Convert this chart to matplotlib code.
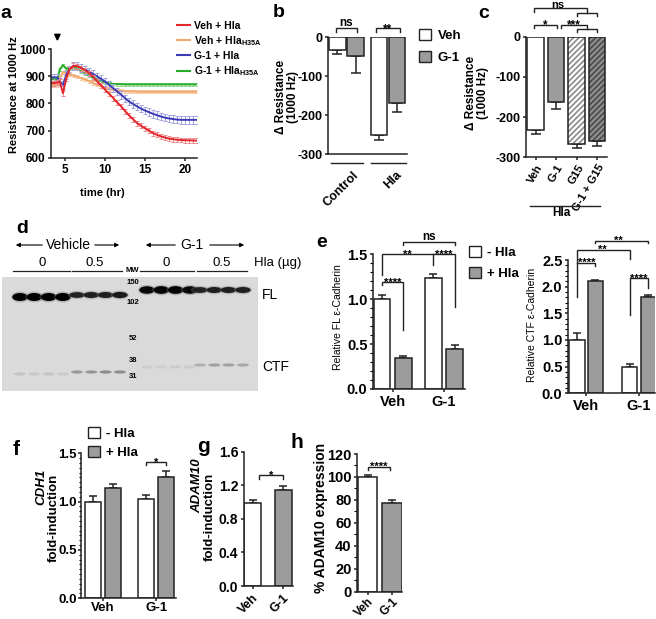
import numpy as np
import matplotlib
matplotlib.use('Agg')
import matplotlib.pyplot as plt
from matplotlib.lines import Line2D
from matplotlib.patches import Patch, Ellipse
from matplotlib.ticker import MultipleLocator, FormatStrFormatter

plt.rcParams['font.family'] = ['Liberation Sans', 'DejaVu Sans']
plt.rcParams['font.weight'] = 'bold'
plt.rcParams['mathtext.fontset'] = 'custom'
plt.rcParams['mathtext.rm'] = 'Liberation Sans:bold'
plt.rcParams['mathtext.bf'] = 'Liberation Sans:bold'
plt.rcParams['hatch.linewidth'] = 1.2
plt.rcParams['axes.unicode_minus'] = False

# ---------------- data ----------------
# a: resistance time course (ECIS)
time_hr = [3.2, 3.6, 4.0, 4.3, 4.7, 5.1, 5.5, 6.0, 6.5, 7.0, 7.5, 8.0, 8.5, 9.0, 9.5,
           10.0, 10.5, 11.0, 11.5, 12.0, 12.5, 13.0, 13.5, 14.0, 14.5, 15.0, 15.5,
           16.0, 16.5, 17.0, 17.5, 18.0, 18.5, 19.0, 19.5, 20.0, 20.5, 21.0, 21.5]
veh_hla = [875, 875, 877, 880, 838, 890, 925, 938, 937, 930, 921, 911, 897, 881, 866,
           850, 835, 820, 804, 789, 772, 756, 742, 728, 718, 709, 700,
           691, 685, 679, 675, 671, 669, 667, 666, 665, 665, 664, 664]
veh_h35a = [868, 868, 868, 895, 915, 912, 906, 903, 898, 893, 888, 882, 875, 869, 863,
            858, 853, 850, 847, 846, 845, 844, 844, 843, 843, 843, 843,
            843, 843, 843, 843, 843, 843, 843, 843, 843, 843, 843, 843]
g1_hla = [896, 896, 896, 880, 868, 905, 925, 938, 938, 930, 924, 917, 908, 899, 890,
          880, 868, 856, 844, 832, 819, 807, 798, 789, 781, 774, 768,
          762, 757, 752, 748, 745, 743, 741, 740, 740, 740, 740, 740]
g1_h35a = [889, 889, 890, 925, 941, 928, 928, 932, 928, 918, 910, 902, 895, 888, 882,
           877, 874, 872, 871, 871, 870, 870, 870, 870, 870, 870, 870,
           870, 870, 870, 870, 870, 870, 870, 870, 870, 870, 870, 870]
a_err = [9, 6, 14, 5]
a_labels = ['Veh + Hla', r'Veh + Hla$_{\mathrm{H35A}}$', 'G-1 + Hla', r'G-1 + Hla$_{\mathrm{H35A}}$']

# b: delta resistance
b_groups = ['Control', 'Hla']
b_veh = [-33, -251]
b_veh_err = [11, 13]
b_g1 = [-47, -168]
b_g1_err = [46, 23]

# c: delta resistance with G15
c_labels = ['Veh', 'G-1', 'G15', 'G-1 + G15']
c_vals = [-232, -163, -267, -260]
c_err = [9, 16, 10, 11]

# d: western blot band signal per lane (Vehicle 0, Vehicle 0.5, G-1 0, G-1 0.5)
fl_signal = [1.0, 1.0, 1.0, 1.0, 0.55, 0.6, 0.6, 0.65, 0.9, 0.95, 0.95, 0.9, 0.55, 0.6, 0.6, 0.6]
ctf_signal = [0.15, 0.12, 0.15, 0.1, 0.45, 0.5, 0.55, 0.55, 0.08, 0.08, 0.1, 0.1, 0.3, 0.4, 0.4, 0.35]
mw_labels = ['150', '102', '52', '38', '31']

# e: relative E-cadherin
e_groups = ['Veh', 'G-1']
fl_minus = [1.0, 1.24]
fl_minus_err = [0.05, 0.045]
fl_plus = [0.35, 0.44]
fl_plus_err = [0.02, 0.055]
ctf_minus = [1.0, 0.5]
ctf_minus_err = [0.13, 0.05]
ctf_plus = [2.1, 1.8]
ctf_plus_err = [0.03, 0.04]

# f: CDH1 fold induction
cdh1_minus = [1.0, 1.03]
cdh1_minus_err = [0.06, 0.04]
cdh1_plus = [1.14, 1.25]
cdh1_plus_err = [0.04, 0.07]

# g: ADAM10 fold induction
gh_labels = ['Veh', 'G-1']
adam10_fold = [0.99, 1.14]
adam10_fold_err = [0.04, 0.05]

# h: % ADAM10 expression
adam10_pct = [100, 77]
adam10_pct_err = [2, 3]

# ---------------- figure ----------------
W, H = 656, 619
fig = plt.figure(figsize=(W / 100, H / 100), dpi=100)
EDGE = '#222222'
GRAY = '#9c9c9c'


def px_axes(l, t, r, b):
    return fig.add_axes([l / W, 1 - b / H, (r - l) / W, (b - t) / H])


def style(ax, fs, pad=1.5):
    for s in ['top', 'right']:
        ax.spines[s].set_visible(False)
    for s in ['left', 'bottom']:
        ax.spines[s].set_linewidth(1.1)
        ax.spines[s].set_color(EDGE)
    ax.tick_params(labelsize=fs, width=1.1, length=2.5, pad=pad, direction='out', color=EDGE)


def bracket(ax, xs, ys, label=None, xm=None, ym=None, fs=8, dy=-2.5):
    ax.plot(xs, ys, color=EDGE, lw=1.0, clip_on=False, solid_joinstyle='miter')
    if label:
        ax.annotate(label, xy=(xm, ym), xytext=(0, dy), textcoords='offset points',
                    ha='center', va='baseline', fontsize=fs, fontweight='bold',
                    annotation_clip=False)


def bars(ax, x, vals, errs, width, face, down=False, capsize=3):
    ax.bar(x, vals, width, color=face, edgecolor=EDGE, linewidth=1.1, zorder=2)
    z = np.zeros(len(vals))
    yerr = [errs, z] if down else [z, errs]
    ax.errorbar(x, vals, yerr=yerr, fmt='none', ecolor=EDGE, elinewidth=1.1,
                capsize=capsize, capthick=1.1, zorder=1)


ov = fig.add_axes([0, 0, 1, 1], zorder=10)
ov.set_xlim(0, W)
ov.set_ylim(H, 0)
ov.axis('off')

# ---- panel a ----
ax_a = px_axes(51, 49, 197, 158)
a_series = [veh_hla, veh_h35a, g1_hla, g1_h35a]
a_colors = ['#e3262b', '#f2a76c', '#3b3bb5', '#25ad25']
a_ecolors = ['#f08a8a', '#f6c9a3', '#a2a2e0', '#8fd68f']
for i in [1, 3, 2, 0]:
    ax_a.errorbar(time_hr, a_series[i], yerr=a_err[i], fmt='none', ecolor=a_ecolors[i],
                  elinewidth=0.7, capsize=1.3, capthick=0.7)
    ax_a.plot(time_hr, a_series[i], color=a_colors[i], lw=1.4)
ax_a.set_xlim(3.2, 21.5)
ax_a.set_ylim(600, 1000)
ax_a.set_xticks([5, 10, 15, 20])
ax_a.set_yticks(range(600, 1001, 100))
style(ax_a, 8.5)
ax_a.annotate('', xy=(4.0, 1018), xytext=(4.0, 1062),
              arrowprops=dict(arrowstyle='-|>', color='black', lw=1.2, mutation_scale=9),
              annotation_clip=False)
fig.legend([Line2D([], [], color=c, lw=1.5) for c in a_colors], a_labels,
           loc='upper left', bbox_to_anchor=(177 / W, 1 - 21 / H), frameon=False,
           prop={'weight': 'bold', 'size': 7.5}, handlelength=1.2, handletextpad=0.4,
           labelspacing=0.3, borderpad=0, borderaxespad=0)
ov.text(14, 95, 'Resistance at 1000 Hz', rotation=90, ha='center', va='center', fontsize=8)
ov.text(102, 193, 'time (hr)', ha='center', va='center', fontsize=8)

# ---- panel b ----
ax_b = px_axes(328, 37.3, 407, 154)
xb = np.arange(len(b_groups))
bars(ax_b, xb - 0.22, b_veh, b_veh_err, 0.4, 'white', down=True, capsize=3.5)
bars(ax_b, xb + 0.22, b_g1, b_g1_err, 0.4, GRAY, down=True, capsize=3.5)
ax_b.set_xlim(-0.446, 1.458)
ax_b.set_ylim(-300, 0)
ax_b.set_xticks([])
ax_b.set_yticks([0, -100, -200, -300])
style(ax_b, 9)
bracket(ax_b, [-0.25, -0.25, 0.25, 0.25], [14.5, 23, 23, 14.5], 'ns', 0, 23, fs=8.5, dy=1.5)
bracket(ax_b, [0.72, 0.72, 1.28, 1.28], [14.5, 23, 23, 14.5], '**', 1, 23, fs=8.5)
fig.legend([Patch(facecolor='white', edgecolor=EDGE, lw=1.0), Patch(facecolor=GRAY, edgecolor=EDGE, lw=1.0)],
           ['Veh', 'G-1'], loc='upper left', bbox_to_anchor=(419 / W, 1 - 29 / H), frameon=False,
           prop={'weight': 'bold', 'size': 9.5}, handlelength=0.9, handleheight=0.9, handletextpad=0.5,
           labelspacing=0.65, borderpad=0, borderaxespad=0)
ov.text(287, 97, 'Δ Resistance\n(1000 Hz)', rotation=90, ha='center', va='center',
        fontsize=8.5, multialignment='center', linespacing=1.1)
for (x1, x2), lab in zip([(330.7, 363), (371, 405.7)], b_groups):
    ov.plot([x1, x2], [163.3, 163.3], color=EDGE, lw=1.0)
    ov.text(x2 - 10, 169, lab, rotation=45, ha='right', va='top', rotation_mode='anchor', fontsize=9)

# ---- panel c ----
ax_c = px_axes(526, 36.7, 607, 157.3)
xc = np.arange(len(c_labels))
c_faces = ['white', GRAY, 'white', '#8e8e8e']
c_hatch = [None, None, '//////', '//////']
c_hcol = [None, None, '#8a8a8a', '#4a4a4a']
for i in range(len(c_labels)):
    if c_hatch[i]:
        ax_c.bar(xc[i], c_vals[i], 0.8, color=c_faces[i], edgecolor=c_hcol[i], hatch=c_hatch[i],
                 linewidth=0, zorder=2)
        ax_c.bar(xc[i], c_vals[i], 0.8, facecolor='none', edgecolor=EDGE, linewidth=1.1, zorder=3)
    else:
        ax_c.bar(xc[i], c_vals[i], 0.8, color=c_faces[i], edgecolor=EDGE, linewidth=1.1, zorder=2)
ax_c.errorbar(xc, c_vals, yerr=[c_err, np.zeros(4)], fmt='none', ecolor=EDGE, elinewidth=1.1,
              capsize=3.5, capthick=1.1, zorder=1)
ax_c.set_xlim(-0.47, 3.48)
ax_c.set_ylim(-300, 0)
ax_c.set_yticks([0, -100, -200, -300])
ax_c.set_xticks(xc)
ax_c.set_xticklabels(c_labels, rotation=60, ha='right', rotation_mode='anchor')
style(ax_c, 9)
ax_c.tick_params(axis='x', labelsize=8)
bracket(ax_c, [-0.1, -0.1, 1.05, 1.05], [21, 29, 29, 21], '*', 0.47, 29, fs=8.5)
bracket(ax_c, [2, 2, 3, 3], [12, 18.5, 18.5, 12])
bracket(ax_c, [1.22, 1.22, 2.5, 2.5], [21, 29, 29, 18.5], '***', 1.85, 29, fs=8.5)
bracket(ax_c, [2, 2, 3, 3], [52, 58, 58, 52])
bracket(ax_c, [-0.1, -0.1, 2.5, 2.5], [62.5, 71, 71, 58], 'ns', 1.1, 71, fs=8, dy=0.3)
ov.text(477, 93, 'Δ Resistance\n(1000 Hz)', rotation=90, ha='center', va='center',
        fontsize=8.5, multialignment='center', linespacing=1.1)
ov.plot([530, 600], [206, 206], color=EDGE, lw=1.0)
ov.text(561, 213, 'Hla', ha='center', va='center', fontsize=8.5)

# ---- panel d (blot) ----
ax_d = px_axes(2, 277, 258, 391)
ax_d.set_xlim(0, 256)
ax_d.set_ylim(114, 0)
ax_d.set_facecolor('#dadada')
ax_d.set_xticks([])
ax_d.set_yticks([])
for s in ax_d.spines.values():
    s.set_visible(False)
group_start = [18, 75, 145, 198]
fl_y = [20, 18, 13, 13]
ctf_y = [97, 95, 90, 88]
for i in range(16):
    g, k = divmod(i, 4)
    x = group_start[g] + 14.3 * k
    s = fl_signal[i]
    ax_d.add_patch(Ellipse((x, fl_y[g]), 18, 5 + 6 * s, color='#808080', alpha=0.4, lw=0))
    ax_d.add_patch(Ellipse((x, fl_y[g]), 15.5, 3 + 5 * s, color=str(0.3 * (1 - s)), lw=0))
    c = ctf_signal[i]
    ax_d.add_patch(Ellipse((x, ctf_y[g]), 12, 3.2, color=str(0.85 - 0.55 * c), lw=0))
ov.text(68, 245, 'Vehicle', ha='center', va='center', fontsize=10, fontweight='normal')
ov.text(192, 245, 'G-1', ha='center', va='center', fontsize=10, fontweight='normal')
for tip, tail in [(13, 45), (122, 92), (143, 178), (247, 207)]:
    ov.annotate('', xy=(tip, 245), xytext=(tail, 245),
                arrowprops=dict(arrowstyle='-|>', color='black', lw=0.8, mutation_scale=6))
for xt, lab in zip([42, 95, 166, 222], ['0', '0.5', '0', '0.5']):
    ov.text(xt, 263, lab, ha='center', va='center', fontsize=9.5, fontweight='normal')
for x1, x2 in [(13, 70), (72, 122), (140, 194), (197, 247)]:
    ov.plot([x1, x2], [270.7, 270.7], color=EDGE, lw=0.9)
ov.text(254, 263, 'Hla (µg)', ha='left', va='center', fontsize=9.5, fontweight='normal')
ov.text(132, 271, 'MW', ha='center', va='center', fontsize=5.5)
for yy, lab in zip([283, 302, 338, 360, 377], mw_labels):
    ov.text(133, yy, lab, ha='center', va='center', fontsize=5.5)
ov.text(262, 295, 'FL', ha='left', va='center', fontsize=10, fontweight='normal')
ov.text(262, 367, 'CTF', ha='left', va='center', fontsize=10, fontweight='normal')

# ---- panel e (left) ----
ax_e1 = px_axes(373, 254.3, 465, 389)
xe = np.arange(len(e_groups))
bars(ax_e1, xe - 0.21, fl_minus, fl_minus_err, 0.33, 'white')
bars(ax_e1, xe + 0.21, fl_plus, fl_plus_err, 0.33, GRAY)
ax_e1.set_xlim(-0.385, 1.41)
ax_e1.set_ylim(0, 1.5)
ax_e1.set_yticks([0, 0.5, 1.0, 1.5])
ax_e1.yaxis.set_major_formatter(FormatStrFormatter('%.1f'))
ax_e1.yaxis.set_minor_locator(MultipleLocator(0.1))
ax_e1.set_xticks(xe)
ax_e1.set_xticklabels(e_groups)
style(ax_e1, 10.5)
ax_e1.tick_params(axis='y', which='minor', length=2, width=0.8)
bracket(ax_e1, [-0.21, -0.21, 0.21, 0.21], [1.16, 1.19, 1.19, 0.66], '****', 0, 1.19)
bracket(ax_e1, [-0.21, -0.21, 1.21, 1.21], [1.27, 1.5, 1.5, 0.91], '**', 0.29, 1.5)
bracket(ax_e1, [0.79, 0.79], [1.38, 1.5], '****', 1.0, 1.5)
bracket(ax_e1, [0.21, 0.21, 1.21, 1.21], [1.6, 1.64, 1.64, 1.6], 'ns', 0.71, 1.64, fs=8.5, dy=1.5)
ov.text(338, 317, 'Relative FL ε-Cadherin', rotation=90, ha='center', va='center',
        fontsize=7.5, fontweight='normal')
ov.text(316, 247, 'e', ha='left', va='baseline', fontsize=14)
fig.legend([Patch(facecolor='white', edgecolor=EDGE, lw=1.0), Patch(facecolor=GRAY, edgecolor=EDGE, lw=1.0)],
           ['- Hla', '+ Hla'], loc='upper left', bbox_to_anchor=(469 / W, 1 - 246 / H), frameon=False,
           prop={'weight': 'bold', 'size': 9.5}, handlelength=0.9, handleheight=0.9, handletextpad=0.5,
           labelspacing=0.6, borderpad=0, borderaxespad=0)

# ---- panel e (right) ----
ax_e2 = px_axes(568, 260, 655, 393.3)
bars(ax_e2, xe - 0.175, ctf_minus, ctf_minus_err, 0.29, 'white')
bars(ax_e2, xe + 0.175, ctf_plus, ctf_plus_err, 0.29, GRAY)
ax_e2.set_xlim(-0.346, 1.303)
ax_e2.set_ylim(0, 2.5)
ax_e2.set_yticks([0, 0.5, 1.0, 1.5, 2.0, 2.5])
ax_e2.yaxis.set_major_formatter(FormatStrFormatter('%.1f'))
ax_e2.yaxis.set_minor_locator(MultipleLocator(0.1))
ax_e2.set_xticks(xe)
ax_e2.set_xticklabels(e_groups)
style(ax_e2, 10.5)
ax_e2.tick_params(axis='y', which='minor', length=2, width=0.8)
bracket(ax_e2, [-0.175, -0.175, 0.825, 0.825], [1.81, 2.69, 2.69, 2.52], '**', 0.3, 2.69)
bracket(ax_e2, [-0.175, 0.175, 0.175], [2.45, 2.45, 2.39], '****', 0, 2.45)
bracket(ax_e2, [0.175, 0.175, 1.175, 1.175], [2.81, 2.86, 2.86, 2.81], '**', 0.6, 2.86)
bracket(ax_e2, [0.825, 0.825, 1.175, 1.175], [1.47, 2.16, 2.16, 1.98], '****', 1.0, 2.16)
ov.text(532, 325, 'Relative CTF ε-Cadherin', rotation=90, ha='center', va='center',
        fontsize=7.5, fontweight='normal')

# ---- panel f ----
ax_f = px_axes(81, 453.3, 176, 598.3)
xf = np.arange(len(e_groups))
bars(ax_f, xf - 0.187, cdh1_minus, cdh1_minus_err, 0.3, 'white')
bars(ax_f, xf + 0.187, cdh1_plus, cdh1_plus_err, 0.3, GRAY)
ax_f.set_xlim(-0.407, 1.369)
ax_f.set_ylim(0, 1.5)
ax_f.set_yticks([0, 0.5, 1.0, 1.5])
ax_f.yaxis.set_major_formatter(FormatStrFormatter('%.1f'))
ax_f.yaxis.set_minor_locator(MultipleLocator(0.05))
ax_f.set_xticks(xf)
ax_f.set_xticklabels(e_groups)
style(ax_f, 9.5, pad=1)
ax_f.tick_params(axis='both', length=2)
ax_f.tick_params(axis='y', which='minor', length=1.5, width=0.8)
bracket(ax_f, [0.813, 0.813, 1.187, 1.187], [1.38, 1.41, 1.41, 1.38], '*', 1.0, 1.41)
ov.text(41, 487, 'CDH1', rotation=90, ha='center', va='center', fontsize=9.5, fontstyle='italic')
ov.text(54, 518, 'fold-induction', rotation=90, ha='center', va='center', fontsize=9.5)
fig.legend([Patch(facecolor='white', edgecolor=EDGE, lw=1.0), Patch(facecolor=GRAY, edgecolor=EDGE, lw=1.0)],
           ['- Hla', '+ Hla'], loc='upper left', bbox_to_anchor=(88 / W, 1 - 427 / H), frameon=False,
           prop={'weight': 'bold', 'size': 9.5}, handlelength=0.9, handleheight=0.9, handletextpad=0.5,
           labelspacing=0.45, borderpad=0, borderaxespad=0)

# ---- panel g ----
ax_g = px_axes(244, 451.7, 293, 586)
xg = np.arange(len(gh_labels))
bars(ax_g, xg, adam10_fold, adam10_fold_err, 0.54, 'white')
ax_g.patches[1].set_facecolor(GRAY)
ax_g.set_xlim(-0.276, 1.315)
ax_g.set_ylim(0, 1.6)
ax_g.set_yticks([0, 0.4, 0.8, 1.2, 1.6])
ax_g.yaxis.set_major_formatter(FormatStrFormatter('%.1f'))
ax_g.set_xticks(xg)
ax_g.set_xticklabels(gh_labels, rotation=45, ha='right', rotation_mode='anchor')
style(ax_g, 10)
ax_g.tick_params(axis='x', labelsize=9)
bracket(ax_g, [0.2, 0.2, 1.0, 1.0], [1.27, 1.32, 1.32, 1.27], '*', 0.6, 1.32)
ov.text(197, 486, 'ADAM10', rotation=90, ha='center', va='center', fontsize=9.5, fontstyle='italic')
ov.text(210, 517, 'fold-induction', rotation=90, ha='center', va='center', fontsize=9.5)

# ---- panel h ----
ax_h = px_axes(357, 454, 402, 591.7)
bars(ax_h, xg, adam10_pct, adam10_pct_err, 0.8, 'white')
ax_h.patches[1].set_facecolor(GRAY)
ax_h.set_xlim(-0.43, 1.41)
ax_h.set_ylim(0, 120)
ax_h.set_yticks(range(0, 121, 20))
ax_h.yaxis.set_minor_locator(MultipleLocator(10))
ax_h.set_xticks(xg)
ax_h.set_xticklabels(gh_labels, rotation=45, ha='right', rotation_mode='anchor')
style(ax_h, 10.5)
ax_h.tick_params(axis='x', labelsize=8.5, pad=0.8, length=2)
ax_h.tick_params(axis='y', which='minor', length=2, width=0.8)
bracket(ax_h, [0.0, 0.0, 0.92, 0.92], [106, 108.9, 108.9, 106], '****', 0.46, 108.9)
ov.text(321, 518, '% ADAM10 expression', rotation=90, ha='center', va='center', fontsize=10)

# panel letters
for x, y, lab, fs in [(0, 18, 'a', 14), (273, 17.3, 'b', 14), (478, 18.3, 'c', 14),
                      (16, 232.7, 'd', 14), (13, 455, 'f', 15), (197, 452, 'g', 15),
                      (290, 448.3, 'h', 15)]:
    ov.text(x, y, lab, ha='left', va='baseline', fontsize=fs)

fig.savefig('out.png', dpi=100)
